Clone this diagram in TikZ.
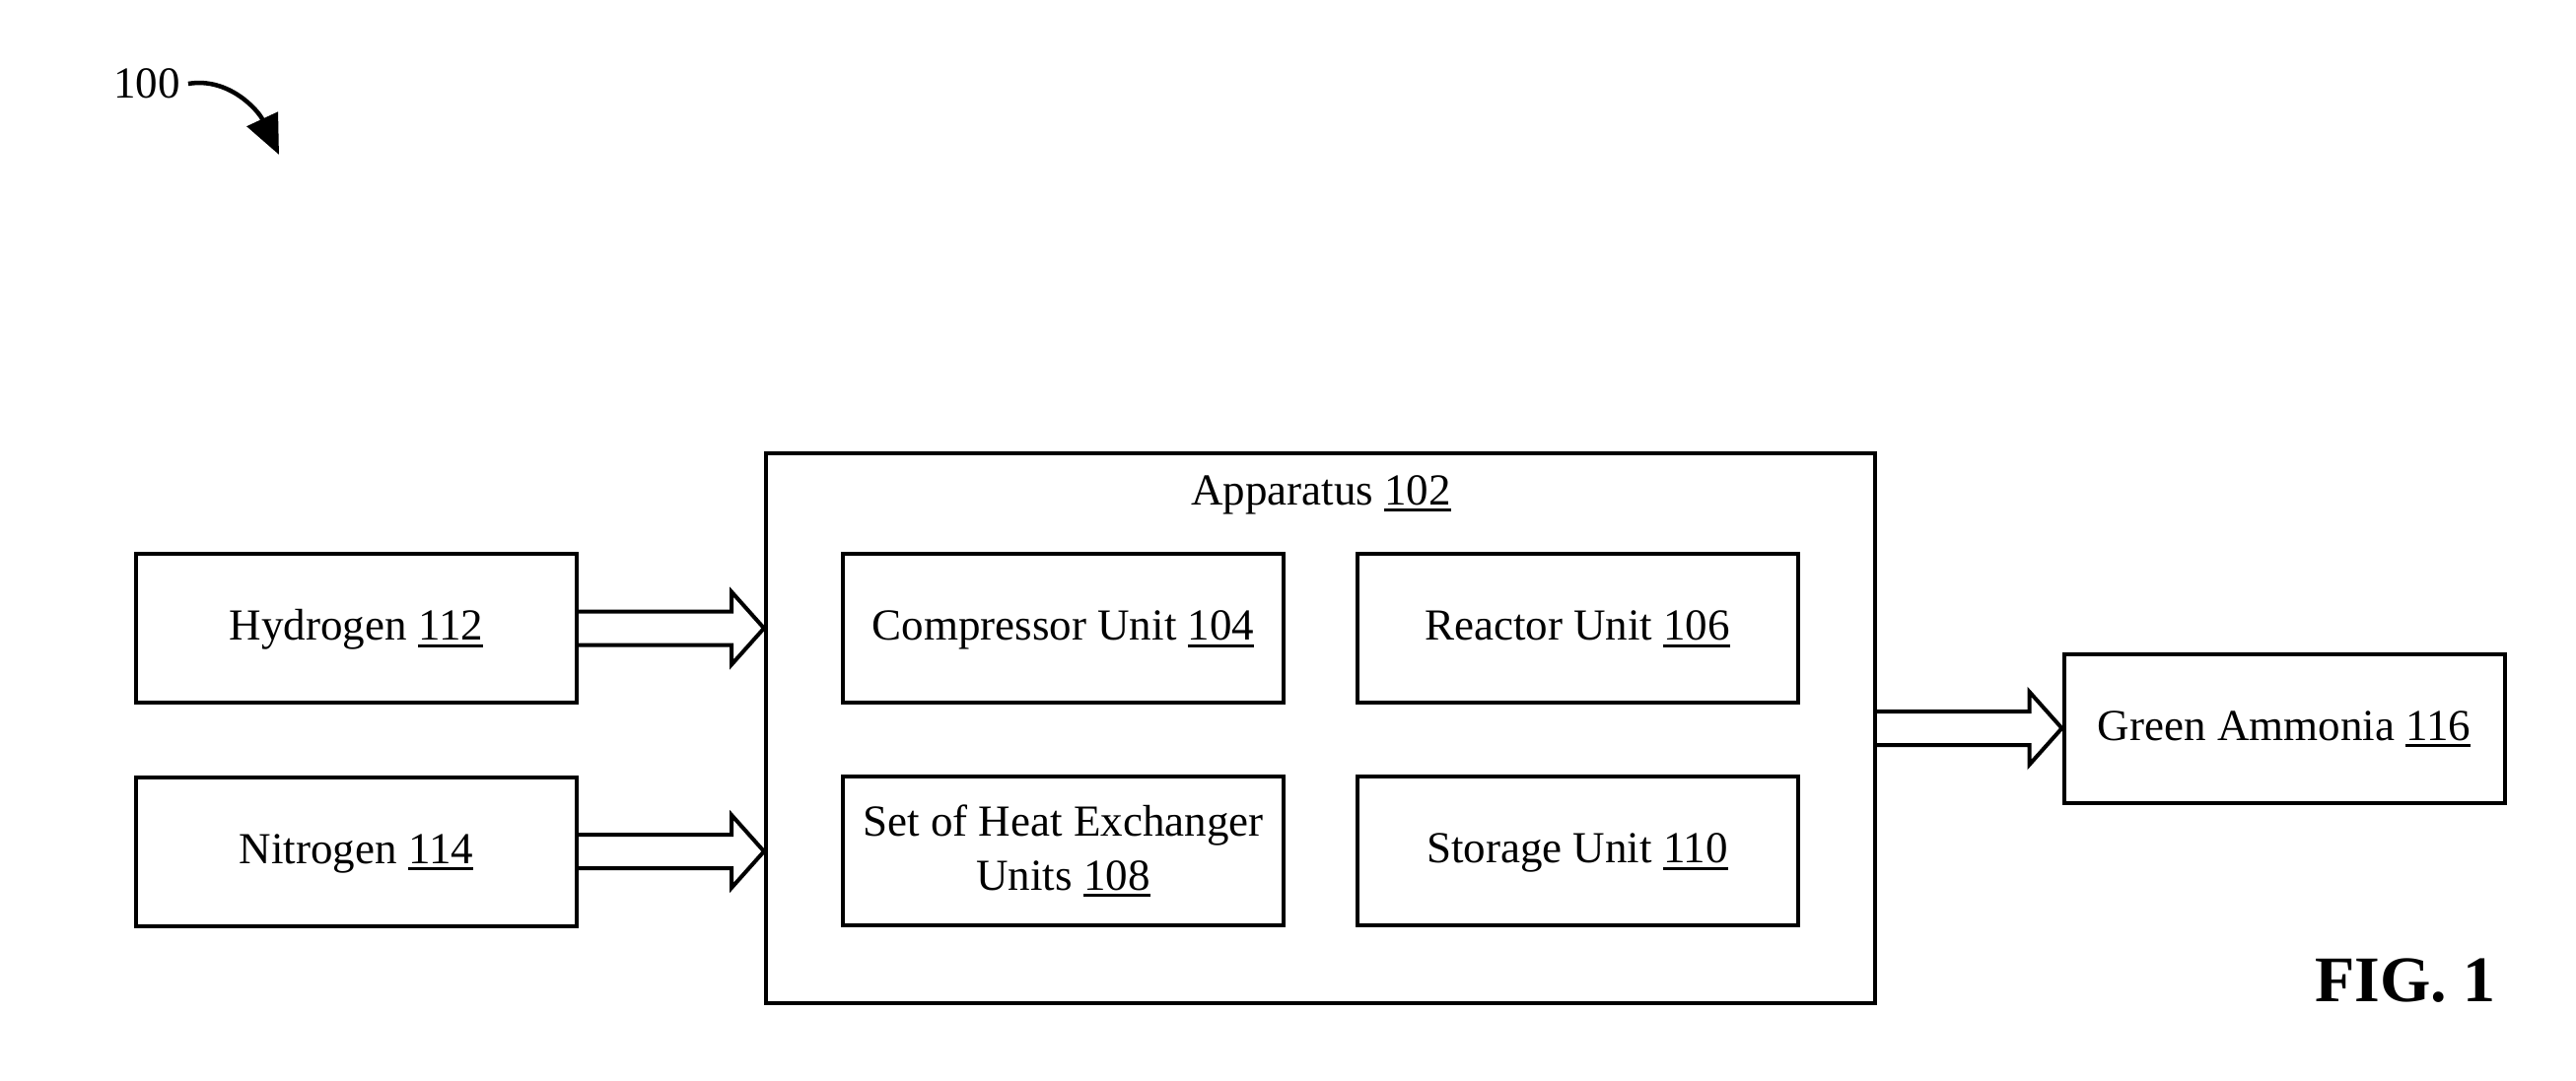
\documentclass[tikz,border=0pt]{standalone}
\usepackage{fontspec}
\setmainfont{Liberation Serif}
\usetikzlibrary{calc,arrows.meta}
\newcommand{\un}[1]{\leavevmode\setbox0\hbox{#1}\rlap{\rule[-7pt]{\wd0}{3pt}}\box0}
\tikzset{
  box/.style={draw, line width=4pt, rectangle, inner sep=0pt, align=center,
    font=\fontsize{45}{55}\selectfont},
  sbox/.style={box, minimum width=447pt, minimum height=151pt},
  one/.style={text height=31pt, text depth=7pt},
  blk/.style={draw, line width=4pt, line join=miter, fill=white},
  lbl/.style={font=\fontsize{45}{55}\selectfont, inner sep=0pt}
}
\newcommand{\blockarr}[2]{%
  \draw[blk] let \p1=(#1), \p2=(#2) in
    (\x1,\y1+17pt) -- (\x2-33pt,\y1+17pt) -- (\x2-33pt,\y1+37pt) -- (\x2,\y1)
    -- (\x2-33pt,\y1-37pt) -- (\x2-33pt,\y1-17pt) -- (\x1,\y1-17pt);}
\begin{document}
\begin{tikzpicture}[x=1pt,y=-1pt]
\useasboundingbox (0,0) rectangle (2613,1097);
% label 100
\node[lbl] (n100) at (149,85) {100};
\coordinate (t100) at (283,157);
\draw[line width=4.5pt, -{Triangle[length=40pt,width=34pt]}] (n100.east) ++(8pt,0) .. controls (232,78) and (262,112) .. (t100);
% apparatus
\node[box, minimum width=1125pt, minimum height=558pt] (app) at (1339.5,739) {};
\node[lbl] (applbl) at (1340,502) {Apparatus \un{102}};
\node[sbox, one] (comp) at (1078.5,637.5) {Compressor Unit \un{104}};
\node[sbox, one] (reac) at (1600,637.5) {Reactor Unit \un{106}};
\node[sbox] (heat) at (1078.5,863.5) {Set of Heat Exchanger\\Units \un{108}};
\node[sbox, one] (stor) at (1600,863.5) {Storage Unit \un{110}};
% inputs
\node[sbox, one] (hyd) at (361.5,637.5) {Hydrogen \un{112}};
\node[sbox, one] (nit) at (361.5,864) {Nitrogen \un{114}};
% output
\node[sbox, one] (amm) at (2317,739) {Green Ammonia \un{116}};
% block arrows
\blockarr{hyd.east}{app.west |- hyd.east}
\blockarr{nit.east}{app.west |- nit.east}
\blockarr{app.east}{amm.west}
% figure label
\node[font=\fontsize{66}{70}\selectfont\bfseries, inner sep=0pt] (fig) at (2440,995) {FIG. 1};
\end{tikzpicture}
\end{document}
